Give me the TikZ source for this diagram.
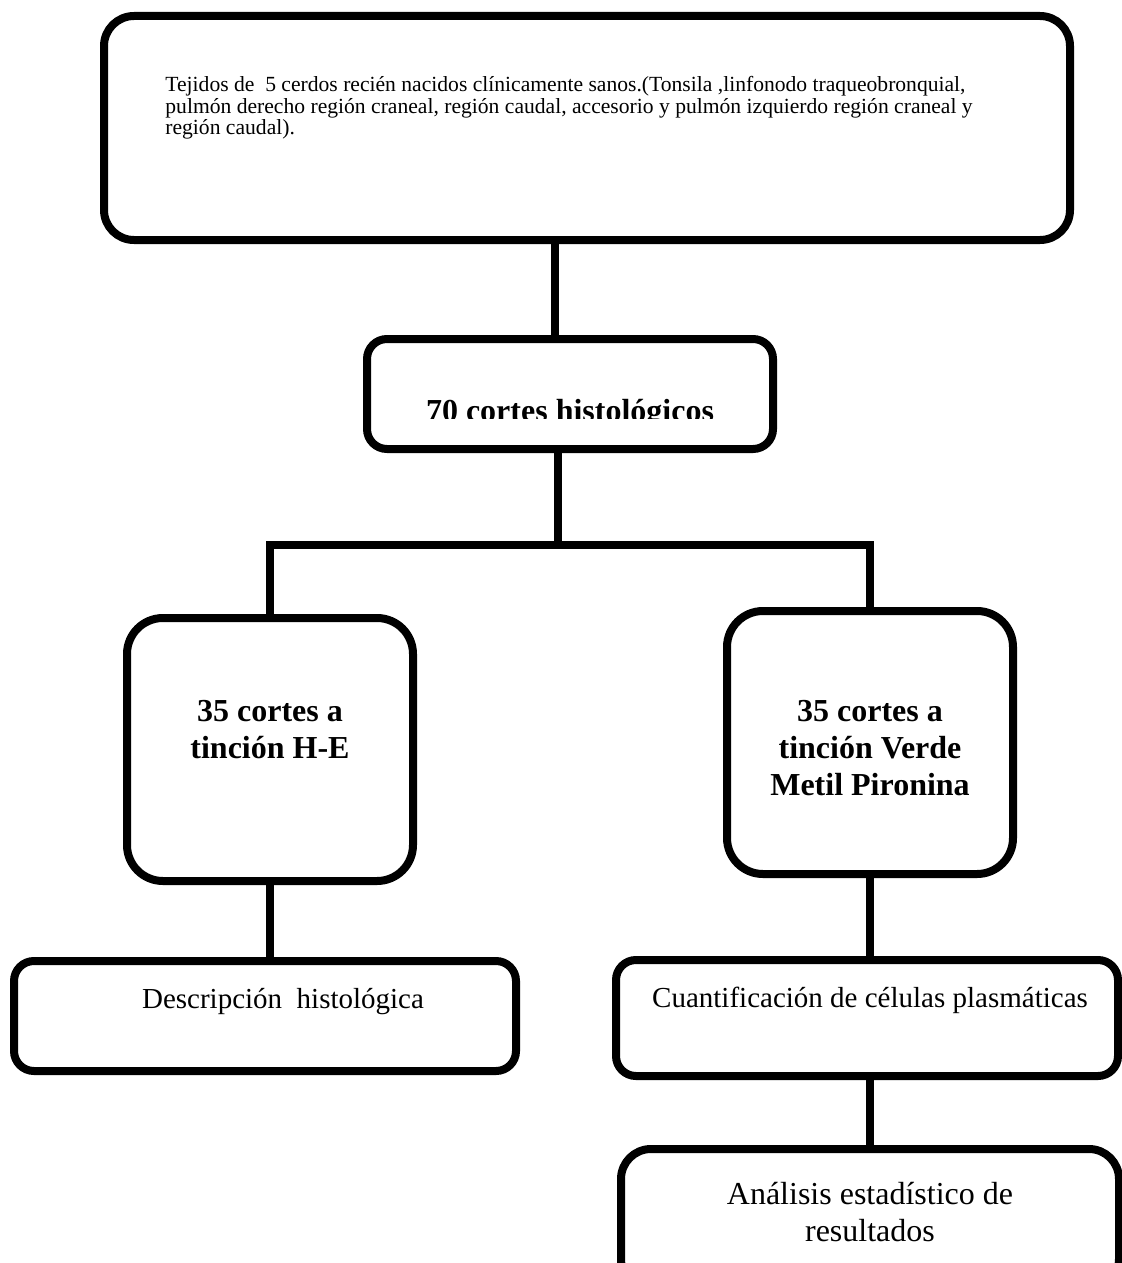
\documentclass[tikz,border=0pt]{standalone}
\usepackage{fontspec}
\setmainfont{Liberation Serif}
\usetikzlibrary{calc}

\tikzset{
  caja/.style={draw, line width=4pt, rounded corners=#1, inner sep=0pt},
  caja/.default=10pt,
  linea/.style={line width=4pt},
  negrita/.style={font=\fontsize{16}{18.5}\selectfont\bfseries, align=center, anchor=base, inner sep=0pt},
  normal/.style={font=\fontsize{14.5}{16.7}\selectfont, align=center, anchor=base, inner sep=0pt},
}

\begin{document}
\begin{tikzpicture}[x=0.5pt, y=-0.5pt]
  \useasboundingbox (0,0) rectangle (1122,1263);
  \clip (0,0) rectangle (1122,1263);
  % Cajas
  \node[caja=15pt, minimum width=483pt, minimum height=112pt] (tejidos) at (587,128) {};
  \node[caja, minimum width=203pt, minimum height=55pt] (cortes) at (570,394) {};
  \node[caja=18pt, minimum width=143pt, minimum height=131.5pt] (he) at (270,749.5) {};
  \node[caja=18pt, minimum width=143pt, minimum height=131.5pt] (vmp) at (870,742.5) {};
  \node[caja, minimum width=251pt, minimum height=55pt] (descr) at (265,1016) {};
  \node[caja, minimum width=251pt, minimum height=58pt] (cuant) at (867,1018) {};
  \node[caja=15pt, minimum width=249pt, minimum height=70pt] (anal) at (870,1219) {};
  % Textos (anchor base = ultima linea)
  \node[anchor=base west, align=left, inner sep=0pt, font=\fontsize{10.8}{10.5}\selectfont] (tejtxt) at (165,134)
    {Tejidos de \ 5 cerdos recién nacidos clínicamente sanos.(Tonsila ,linfonodo traqueobronquial,\\
     pulmón derecho región craneal, región caudal, accesorio y pulmón izquierdo región craneal y\\
     región caudal).};
  \begin{scope}
    \clip (380,350) rectangle (760,418);
    \node[negrita] (cortestxt) at (570,421) {70 cortes histológicos};
  \end{scope}
  \node[negrita] (hetxt) at (270,758) {35 cortes a\\tinción H-E};
  \node[negrita] (vmptxt) at (870,795) {35 cortes a\\tinción Verde\\Metil Pironina};
  \node[normal] (descrtxt) at (283,1008) {Descripción \ histológica};
  \node[normal] (cuanttxt) at (870,1007) {Cuantificación de células plasmáticas};
  \node[normal, font=\fontsize{16}{18.5}\selectfont] (analtxt) at (870,1241) {Análisis estadístico de\\resultados};
  % Conectores
  \coordinate (rama) at (558,545);
  \draw[linea] ($(tejidos.south)+(-32,0)$) -- ($(cortes.north)+(-15,0)$);
  \draw[linea] ($(cortes.south)+(-12,0)$) -- (rama);
  \draw[linea] (he.north) -- (he.north |- rama) -- (vmp.north |- rama) -- (vmp.north);
  \draw[linea] (he.south) -- (he.south |- descr.north);
  \draw[linea] (vmp.south) -- (vmp.south |- cuant.north);
  \draw[linea] (cuant.south -| anal.north) -- (anal.north);
\end{tikzpicture}
\end{document}
